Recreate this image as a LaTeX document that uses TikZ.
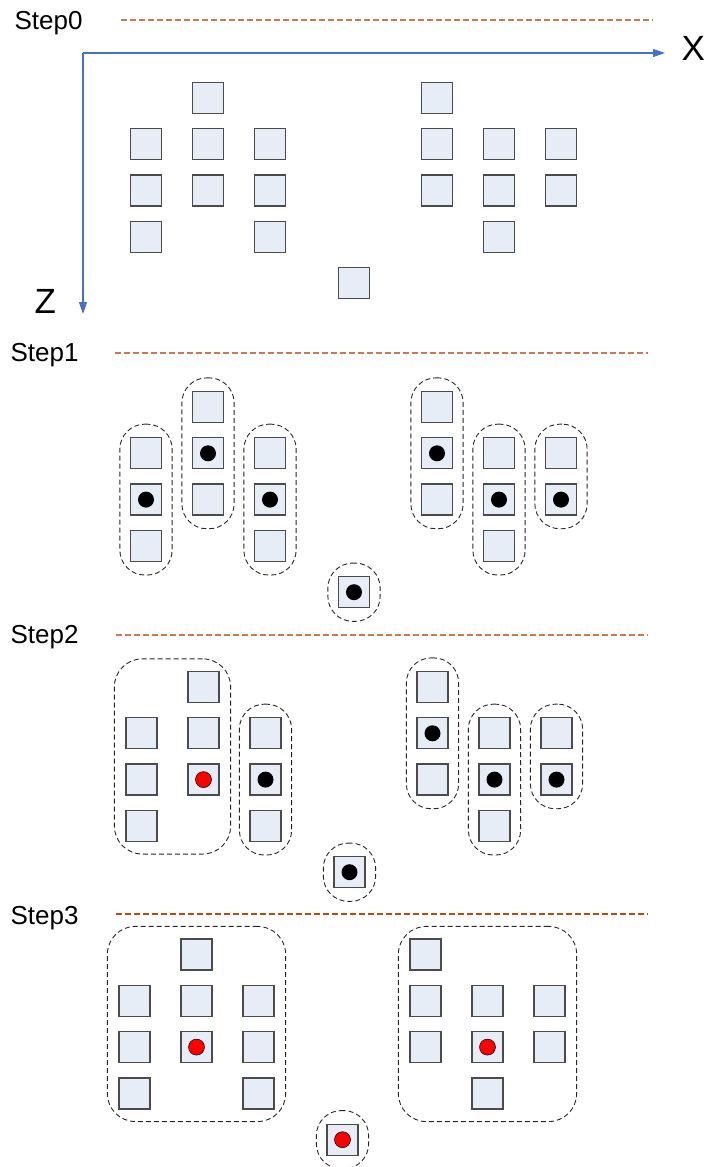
\documentclass[tikz,border=0pt]{standalone}
\usepackage{fontspec}
\setmainfont{Liberation Sans}
\usetikzlibrary{arrows.meta, positioning, fit}
\definecolor{cellfill}{RGB}{230,237,247}
\definecolor{cellline}{RGB}{75,75,75}
\definecolor{axisblue}{RGB}{68,114,196}
\definecolor{steporange}{RGB}{205,120,80}
\definecolor{steprust}{RGB}{190,75,10}

\begin{document}
\begin{tikzpicture}[x=1pt,y=-1pt,
    cell/.style={draw=cellline,fill=cellfill,line width=1.3pt,minimum size=31pt,inner sep=0pt},
    dot/.style={circle,fill=black,minimum size=16pt,inner sep=0pt},
    reddot/.style={circle,fill=red,draw=black,line width=0.5pt,minimum size=16pt,inner sep=0pt},
    group/.style={draw=black!85,dash pattern=on 5pt off 3pt,line width=0.9pt,rounded corners=25pt,inner xsep=10pt,inner ysep=13pt},
    block/.style={group,rounded corners=28pt,inner xsep=11pt,inner ysep=12pt},
    stepname/.style={anchor=base west,font=\fontsize{26}{31}\selectfont},
    stepline/.style={dash pattern=on 6pt off 3pt,line width=1.2pt},
    axis/.style={axisblue,line width=1.2pt,-{Triangle[length=12pt,width=8pt]}},
    axisname/.style={anchor=base west,font=\fontsize{35}{40}\selectfont}]
    \useasboundingbox (0,0) rectangle (705,1167);

    % step titles and separators
    \foreach \s/\lx/\ly/\dy/\xa/\xb/\c in {0/11/29/20/121/653/steporange,1/7/361/353/115/648/steporange,2/7/643/635/116/648/steporange,3/7/924/914/116/648/steprust} {
        \node[stepname] (step\s) at (\lx,\ly) {Step\s};
        \draw[stepline,\c] (\xa,\dy) -- (\xb,\dy);
    }

    % axes
    \coordinate (origin) at (83,53);
    \coordinate (xtip) at (665,53);
    \coordinate (ztip) at (83,314);
    \draw[axis] (origin) -- (xtip);
    \draw[axis] (origin) -- (ztip);
    \node[axisname] (xname) at (678,60) {X};
    \node[axisname] (zname) at (31,313) {Z};

    % the same cells in every step
    \foreach \s/\ox/\oy in {0/146/98,1/146/407,2/141.5/687,3/134.5/954.5} {
        \begin{scope}[shift={(\ox,\oy)}]
            \foreach \c/\r in {1/2,1/3,1/4,2/1,2/2,2/3,3/2,3/3,3/4}
                \node[cell] (s\s-l\c\r) at ({62*(\c-1)},{46.3*(\r-1)}) {};
            \foreach \c/\r in {1/1,1/2,1/3,2/2,2/3,2/4,3/2,3/3}
                \node[cell] (s\s-r\c\r) at ({291+62*(\c-1)},{46.3*(\r-1)}) {};
            \node[cell] (s\s-m) at (208,185.2) {};
        \end{scope}
    }

    % markers
    \foreach \n in {s1-l13,s1-l22,s1-l33,s1-m,s1-r12,s1-r23,s1-r33,s2-l33,s2-m,s2-r12,s2-r23,s2-r33}
        \node[dot] (\n-d) at (\n) {};
    \foreach \n in {s2-l23,s3-l23,s3-m,s3-r23}
        \node[reddot] (\n-d) at (\n) {};

    % step 1: one ring per column
    \foreach \a/\b/\g in {l12/l14/gl1,l21/l23/gl2,l32/l34/gl3,m/m/gm,r11/r13/gr1,r22/r24/gr2,r32/r33/gr3}
        \node[group,fit=(s1-\a)(s1-\b)] (s1-\g) {};

    % step 2: first two columns merged
    \node[block,fit=(s2-l12)(s2-l14)(s2-l21)] (s2-gl1) {};
    \foreach \a/\b/\g in {l32/l34/gl3,m/m/gm,r11/r13/gr1,r22/r24/gr2,r32/r33/gr3}
        \node[group,fit=(s2-\a)(s2-\b)] (s2-\g) {};

    % step 3: whole blocks
    \node[block,fit=(s3-l12)(s3-l14)(s3-l21)(s3-l34)] (s3-gl) {};
    \node[block,fit=(s3-r11)(s3-r13)(s3-r24)(s3-r32)] (s3-gr) {};
    \node[group,fit=(s3-m)] (s3-gm) {};
\end{tikzpicture}
\end{document}
